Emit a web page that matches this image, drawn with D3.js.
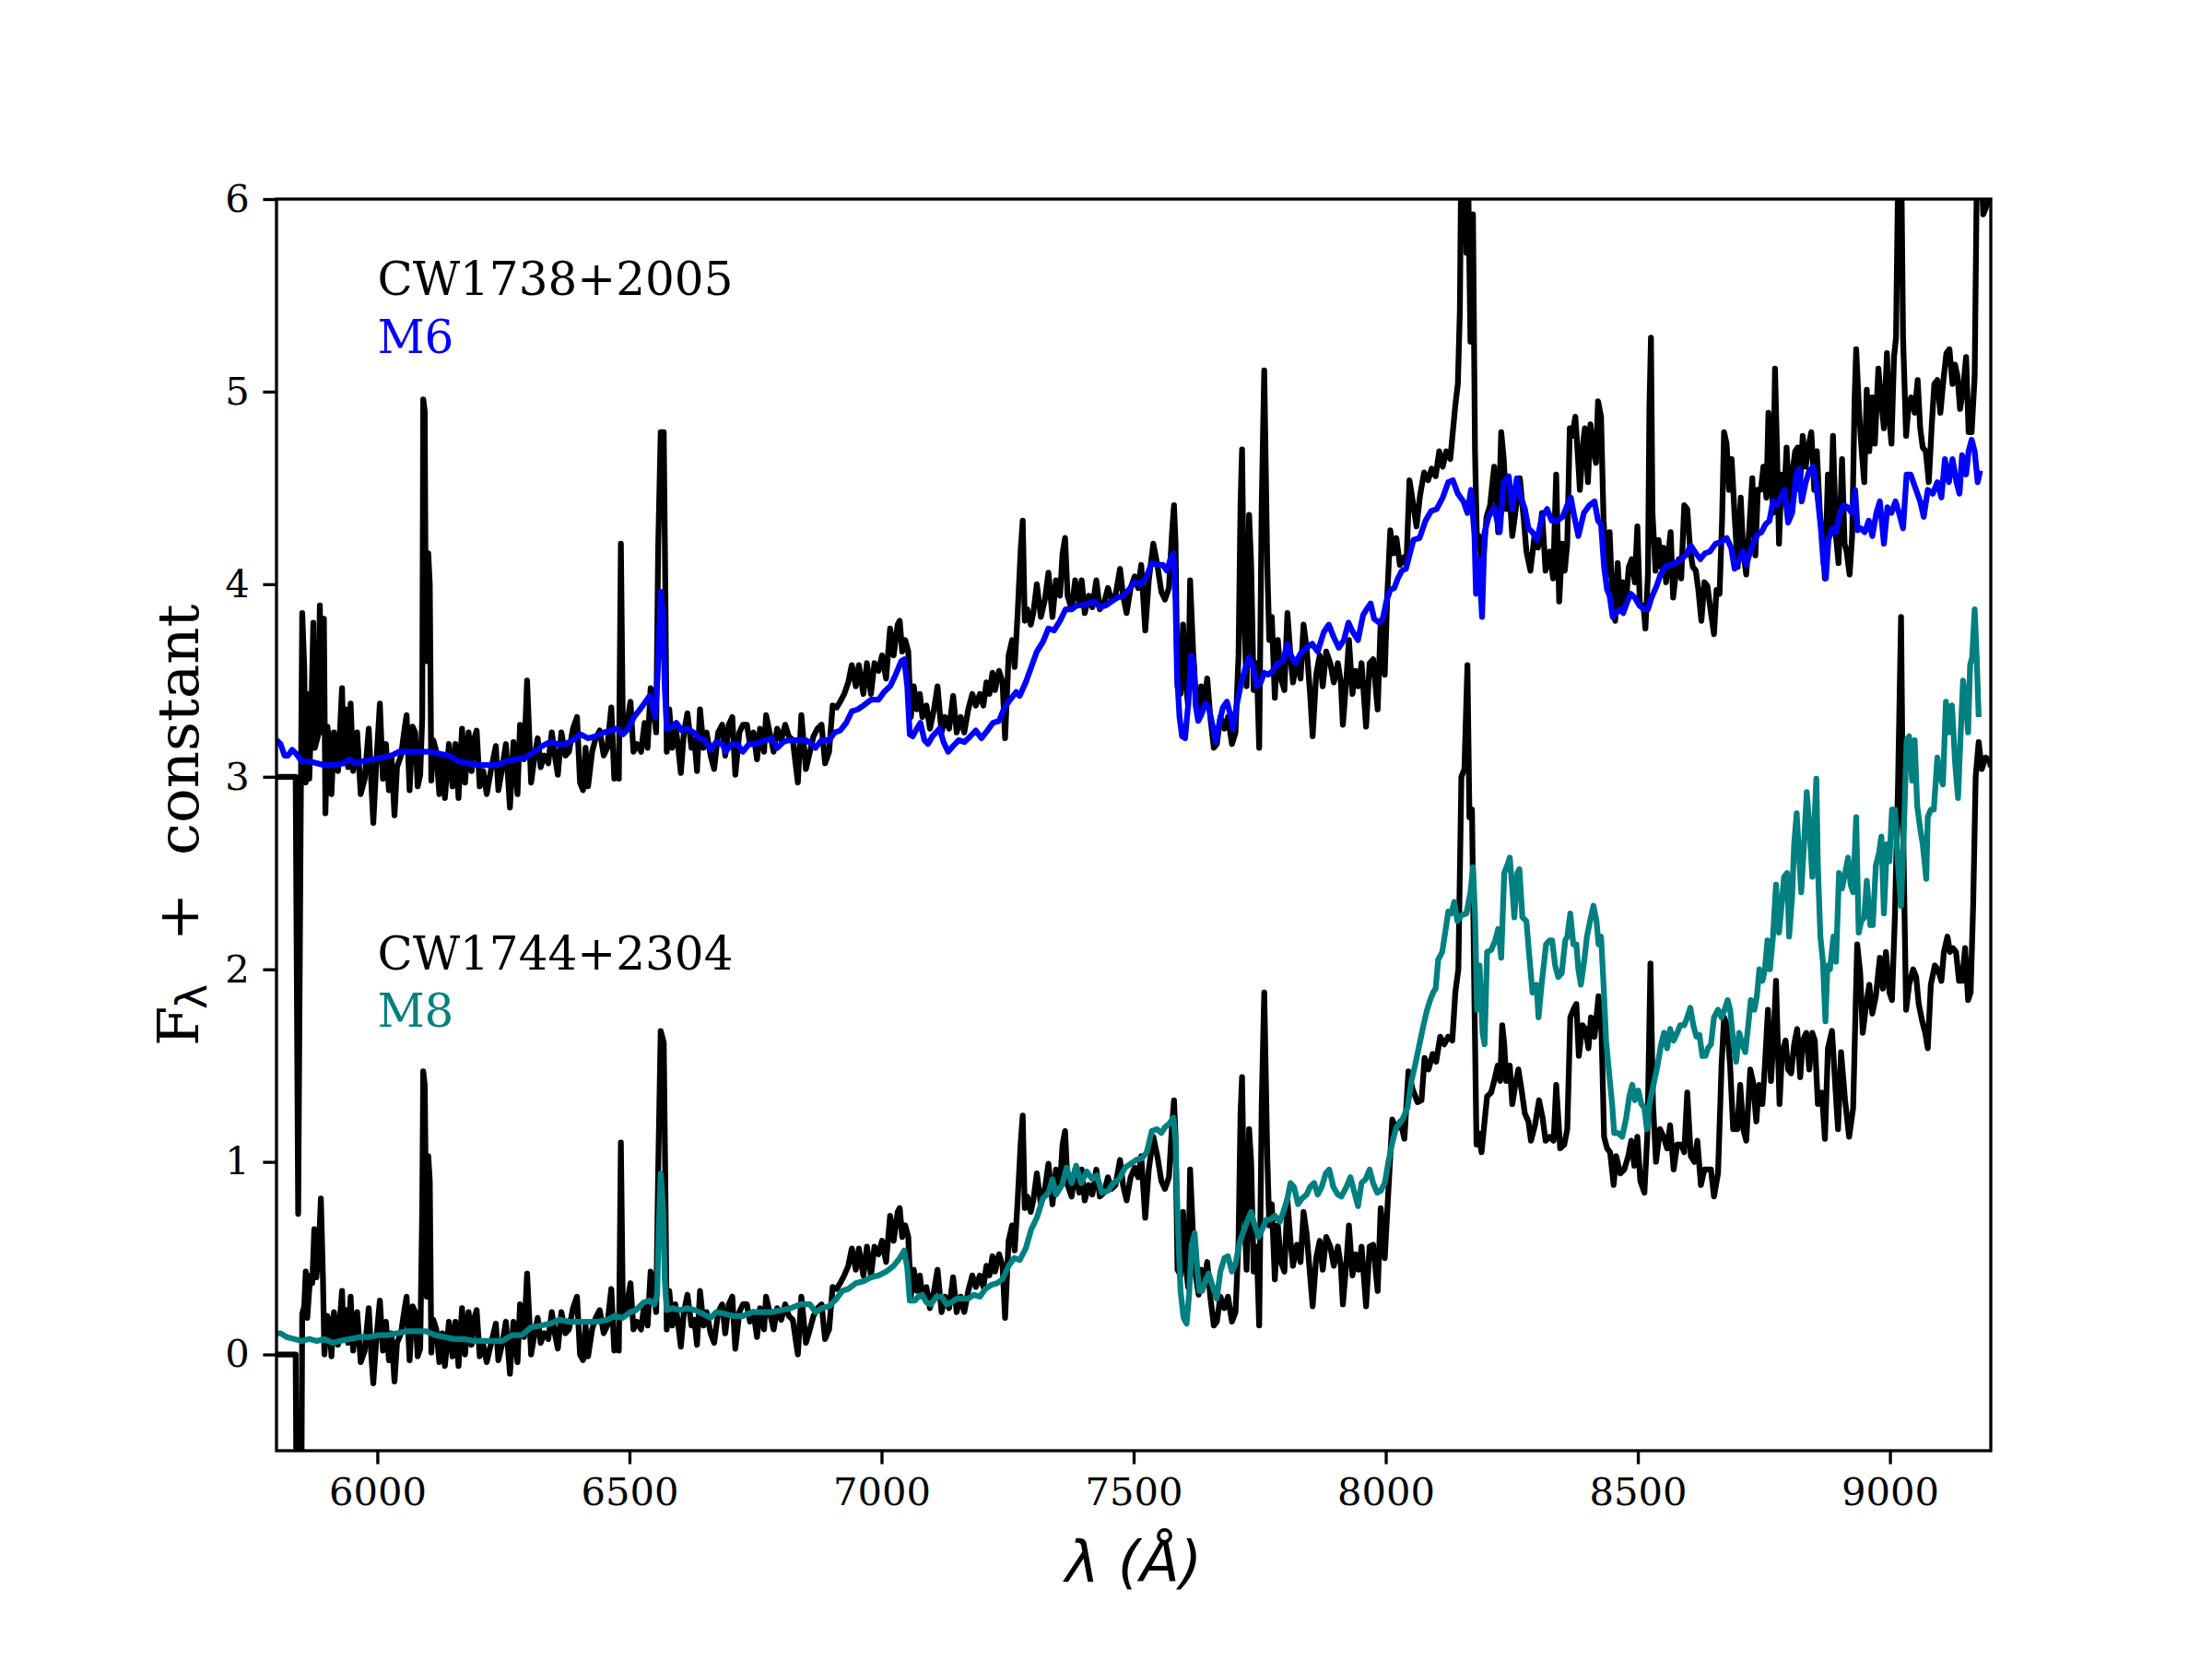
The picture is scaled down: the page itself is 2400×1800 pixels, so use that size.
<!DOCTYPE html>
<html>
<head>
<meta charset="utf-8">
<style>
  body { margin: 0; background: #fff; }
  svg { display: block; }
</style>
</head>
<body>
<script src="https://cdn.jsdelivr.net/npm/d3@7"></script>
<script>

// _____________ data  [wavelength (A), flux + constant]
var cw1738 = [[5800,3.00],[5838,3.00],[5843,0.73],[5848,2.80],[5851,3.85],[5855,3.57],[5858,2.97],[5861,3.43],[5865,2.99],[5869,3.33],[5873,3.80],[5876,3.15],[5882,3.21],[5886,3.89],[5890,3.23],[5894,3.82],[5897,2.81],[5901,3.26],[5905,3.17],[5909,2.91],[5914,3.23],[5922,3.03],[5930,3.46],[5933,3.07],[5937,3.35],[5942,3.05],[5947,3.38],[5952,3.03],[5960,3.23],[5967,2.91],[5975,2.99],[5983,3.25],[5988,2.97],[5992,2.76],[5998,3.07],[6005,3.38],[6011,2.99],[6017,3.17],[6023,2.93],[6028,3.11],[6034,2.80],[6039,3.05],[6047,3.11],[6053,3.23],[6058,3.32],[6064,2.93],[6070,3.26],[6075,3.23],[6080,2.95],[6085,3.01],[6089,3.30],[6091,4.96],[6094,4.90],[6096,3.80],[6098,3.60],[6101,4.16],[6104,4.00],[6107,2.98],[6111,3.19],[6117,3.13],[6123,2.91],[6129,3.11],[6134,2.89],[6142,3.17],[6149,2.95],[6155,3.17],[6161,2.89],[6168,3.25],[6174,2.97],[6181,3.23],[6187,3.03],[6191,3.19],[6197,3.24],[6203,2.95],[6210,3.03],[6217,2.91],[6225,3.03],[6235,3.16],[6240,2.93],[6248,3.05],[6255,3.17],[6263,2.84],[6270,3.18],[6278,2.91],[6283,3.27],[6291,3.09],[6297,3.50],[6305,2.97],[6312,3.11],[6318,3.20],[6324,3.05],[6331,3.11],[6339,3.07],[6346,3.23],[6352,3.11],[6358,3.01],[6365,3.23],[6373,3.11],[6380,3.13],[6388,3.25],[6396,3.31],[6402,2.97],[6408,2.93],[6413,3.15],[6418,2.95],[6426,3.13],[6433,3.20],[6441,3.24],[6449,3.11],[6456,3.15],[6464,3.36],[6470,2.99],[6475,3.07],[6479,2.99],[6483,4.21],[6487,3.23],[6494,3.25],[6502,3.39],[6508,3.13],[6515,3.17],[6523,3.13],[6530,3.28],[6536,3.15],[6542,3.46],[6549,3.32],[6553,3.23],[6557,4.19],[6562,4.79],[6568,4.79],[6571,4.02],[6574,3.13],[6579,3.35],[6585,3.15],[6591,3.27],[6596,3.17],[6602,3.02],[6608,3.23],[6615,3.33],[6623,3.15],[6629,3.19],[6634,3.03],[6640,3.35],[6647,3.15],[6653,3.23],[6661,3.11],[6668,3.04],[6676,3.23],[6684,3.27],[6690,3.11],[6697,3.27],[6704,3.31],[6710,3.01],[6718,3.23],[6725,3.27],[6733,3.27],[6739,3.17],[6746,3.23],[6753,3.09],[6759,3.25],[6767,3.13],[6771,3.32],[6778,3.23],[6786,3.13],[6793,3.25],[6801,3.19],[6809,3.27],[6816,3.21],[6824,3.19],[6834,2.97],[6841,3.32],[6850,3.04],[6858,3.13],[6865,3.21],[6873,3.25],[6881,3.27],[6888,3.07],[6896,3.13],[6903,3.37],[6911,3.36],[6918,3.39],[6926,3.43],[6934,3.49],[6941,3.58],[6949,3.47],[6955,3.58],[6964,3.43],[6971,3.59],[6979,3.43],[6986,3.59],[6994,3.55],[7001,3.63],[7009,3.51],[7017,3.77],[7024,3.63],[7032,3.79],[7036,3.81],[7041,3.65],[7047,3.71],[7053,3.65],[7058,3.31],[7064,3.47],[7070,3.35],[7076,3.43],[7081,3.31],[7089,3.37],[7096,3.25],[7104,3.35],[7111,3.47],[7119,3.23],[7126,3.31],[7134,3.25],[7142,3.42],[7149,3.23],[7157,3.31],[7164,3.23],[7172,3.35],[7180,3.43],[7187,3.37],[7195,3.43],[7202,3.37],[7208,3.49],[7214,3.43],[7220,3.54],[7225,3.45],[7233,3.55],[7240,3.49],[7245,3.20],[7252,3.63],[7259,3.71],[7264,3.57],[7270,3.85],[7276,4.18],[7280,4.33],[7284,3.81],[7289,3.87],[7296,3.79],[7301,3.85],[7308,4.00],[7316,3.83],[7324,3.92],[7331,4.06],[7339,3.83],[7346,4.02],[7354,3.94],[7359,4.16],[7364,4.24],[7369,3.94],[7377,3.87],[7384,4.02],[7392,3.90],[7397,4.02],[7403,3.85],[7411,3.94],[7418,3.88],[7426,4.02],[7433,3.87],[7441,3.90],[7449,3.98],[7456,3.92],[7464,3.94],[7473,4.08],[7479,3.94],[7486,3.85],[7494,3.98],[7502,4.04],[7509,3.98],[7515,4.10],[7523,3.76],[7530,4.02],[7539,4.21],[7547,4.10],[7555,3.96],[7562,3.92],[7570,3.98],[7576,4.26],[7580,4.41],[7583,4.22],[7587,3.47],[7593,3.43],[7598,3.79],[7602,3.53],[7608,3.37],[7612,4.02],[7618,3.65],[7623,3.43],[7629,3.33],[7634,3.47],[7640,3.39],[7646,3.51],[7652,3.31],[7659,3.15],[7665,3.17],[7672,3.31],[7680,3.25],[7687,3.31],[7695,3.17],[7702,3.23],[7708,3.63],[7712,4.42],[7715,4.70],[7719,3.83],[7724,3.47],[7729,4.36],[7733,4.10],[7738,3.45],[7744,3.59],[7749,3.15],[7754,4.42],[7759,5.11],[7765,4.10],[7769,3.71],[7774,3.83],[7780,3.41],[7786,3.71],[7792,3.51],[7799,3.45],[7805,3.85],[7811,3.63],[7816,3.49],[7824,3.61],[7831,3.51],[7837,3.79],[7843,3.67],[7850,3.43],[7855,3.21],[7862,3.53],[7869,3.63],[7875,3.47],[7882,3.65],[7890,3.59],[7897,3.49],[7905,3.59],[7911,3.49],[7915,3.27],[7922,3.51],[7927,3.71],[7934,3.43],[7940,3.55],[7946,3.47],[7952,3.59],[7961,3.26],[7968,3.59],[7975,3.61],[7984,3.35],[7990,3.81],[7998,3.53],[8003,3.94],[8009,4.28],[8015,4.16],[8021,4.24],[8028,4.10],[8036,4.14],[8041,4.10],[8047,4.54],[8053,4.44],[8061,4.30],[8068,4.46],[8076,4.58],[8084,4.54],[8091,4.60],[8099,4.56],[8106,4.69],[8113,4.61],[8120,4.69],[8128,4.65],[8133,4.79],[8138,4.93],[8143,5.04],[8147,5.42],[8150,6.30],[8156,6.40],[8160,5.72],[8163,6.20],[8168,5.26],[8173,5.92],[8177,4.69],[8181,4.21],[8186,4.25],[8191,4.05],[8200,4.35],[8207,4.41],[8215,4.61],[8223,4.27],[8229,4.79],[8234,4.65],[8239,4.39],[8244,4.53],[8251,4.25],[8259,4.41],[8266,4.55],[8274,4.33],[8279,4.17],[8287,4.07],[8295,4.25],[8302,4.19],[8310,4.37],[8317,4.07],[8325,4.17],[8332,4.03],[8338,4.57],[8344,3.91],[8350,4.21],[8355,4.07],[8360,4.21],[8365,4.81],[8370,4.77],[8376,4.87],[8380,4.71],[8385,4.49],[8392,4.75],[8395,4.81],[8401,4.53],[8406,4.83],[8412,4.69],[8417,4.63],[8421,4.95],[8427,4.87],[8432,4.33],[8439,4.05],[8444,4.27],[8450,3.89],[8455,3.81],[8460,4.11],[8465,3.89],[8471,4.01],[8476,3.89],[8482,4.09],[8488,4.13],[8494,4.01],[8499,4.30],[8504,3.89],[8511,3.89],[8515,3.77],[8520,4.05],[8523,4.93],[8526,5.28],[8529,4.37],[8535,4.07],[8541,4.23],[8546,4.09],[8551,4.19],[8556,4.01],[8561,4.17],[8565,4.27],[8570,3.93],[8575,4.05],[8581,4.13],[8586,4.03],[8592,4.41],[8598,4.39],[8604,4.17],[8609,4.09],[8615,4.07],[8620,3.97],[8626,3.81],[8632,4.01],[8638,3.99],[8643,3.89],[8651,3.74],[8656,3.97],[8662,3.95],[8667,4.33],[8671,4.79],[8676,4.73],[8681,4.49],[8686,4.65],[8692,4.35],[8698,4.09],[8704,4.45],[8709,4.17],[8715,4.05],[8721,4.29],[8727,4.55],[8733,4.15],[8738,4.49],[8744,4.49],[8749,4.61],[8755,4.45],[8759,4.89],[8764,4.65],[8768,4.37],[8772,5.12],[8776,4.69],[8780,4.21],[8785,4.57],[8791,4.49],[8795,4.71],[8801,4.37],[8806,4.57],[8812,4.69],[8817,4.71],[8821,4.49],[8827,4.77],[8833,4.61],[8838,4.71],[8844,4.79],[8850,4.49],[8855,4.69],[8861,4.37],[8867,4.19],[8871,4.03],[8877,4.57],[8882,4.29],[8887,4.77],[8893,4.25],[8898,4.11],[8905,4.65],[8910,4.21],[8914,4.17],[8920,4.05],[8925,4.25],[8930,4.97],[8933,5.22],[8939,4.89],[8944,4.69],[8949,4.53],[8954,5.01],[8959,4.69],[8965,4.97],[8970,4.73],[8977,5.12],[8982,4.97],[8988,4.81],[8994,5.20],[8999,4.85],[9003,4.73],[9008,5.18],[9012,5.28],[9017,6.30],[9022,6.30],[9026,5.28],[9032,4.77],[9037,4.93],[9042,4.97],[9049,4.89],[9055,5.06],[9060,4.81],[9065,4.71],[9071,4.69],[9077,4.53],[9083,4.83],[9088,5.04],[9094,5.06],[9100,4.89],[9106,5.06],[9112,5.20],[9118,5.22],[9124,5.04],[9129,5.14],[9134,5.08],[9139,4.91],[9145,5.01],[9151,5.18],[9156,4.79],[9162,4.79],[9168,5.08],[9173,6.30],[9179,6.30],[9185,5.92],[9191,5.96],[9196,5.99],[9200,5.97]]

var templateM6 = [[5800,3.19],[5808,3.17],[5816,3.11],[5823,3.11],[5831,3.14],[5839,3.12],[5850,3.08],[5865,3.08],[5880,3.07],[5895,3.06],[5914,3.06],[5933,3.07],[5945,3.09],[5956,3.07],[5971,3.08],[5990,3.09],[6009,3.10],[6028,3.11],[6043,3.13],[6066,3.13],[6085,3.13],[6104,3.13],[6123,3.12],[6142,3.11],[6161,3.08],[6180,3.07],[6199,3.06],[6217,3.06],[6236,3.06],[6255,3.08],[6274,3.09],[6293,3.10],[6312,3.13],[6327,3.16],[6343,3.18],[6358,3.17],[6373,3.17],[6388,3.19],[6403,3.22],[6418,3.20],[6433,3.21],[6449,3.23],[6464,3.24],[6475,3.25],[6487,3.22],[6498,3.25],[6509,3.31],[6521,3.35],[6532,3.39],[6540,3.42],[6546,3.37],[6551,3.31],[6556,3.53],[6562,3.96],[6567,3.82],[6570,3.47],[6574,3.25],[6585,3.26],[6593,3.28],[6604,3.24],[6615,3.25],[6627,3.23],[6638,3.20],[6649,3.19],[6661,3.14],[6672,3.18],[6684,3.17],[6691,3.13],[6702,3.17],[6714,3.17],[6725,3.13],[6737,3.17],[6748,3.17],[6759,3.18],[6771,3.19],[6782,3.20],[6793,3.15],[6805,3.18],[6816,3.19],[6828,3.19],[6839,3.19],[6850,3.19],[6862,3.17],[6869,3.15],[6881,3.19],[6896,3.19],[6907,3.23],[6918,3.24],[6930,3.28],[6941,3.34],[6953,3.35],[6964,3.37],[6979,3.40],[6994,3.40],[7005,3.44],[7017,3.47],[7028,3.53],[7039,3.60],[7045,3.61],[7051,3.47],[7056,3.22],[7062,3.21],[7070,3.25],[7077,3.28],[7085,3.19],[7092,3.17],[7101,3.21],[7115,3.25],[7123,3.18],[7132,3.13],[7142,3.16],[7153,3.19],[7164,3.18],[7176,3.21],[7187,3.24],[7198,3.20],[7210,3.24],[7221,3.28],[7233,3.29],[7244,3.36],[7255,3.40],[7267,3.44],[7274,3.42],[7286,3.49],[7297,3.57],[7308,3.65],[7320,3.70],[7331,3.77],[7342,3.76],[7354,3.81],[7365,3.87],[7377,3.87],[7388,3.89],[7399,3.89],[7411,3.90],[7422,3.91],[7433,3.88],[7445,3.89],[7456,3.91],[7468,3.93],[7479,3.94],[7490,3.97],[7502,4.01],[7513,4.00],[7524,4.03],[7536,4.11],[7547,4.10],[7558,4.10],[7566,4.07],[7574,4.14],[7579,4.16],[7583,3.92],[7586,3.53],[7591,3.31],[7596,3.21],[7602,3.20],[7608,3.37],[7614,3.63],[7619,3.59],[7623,3.37],[7628,3.29],[7634,3.32],[7642,3.38],[7649,3.36],[7657,3.26],[7663,3.18],[7670,3.28],[7677,3.36],[7685,3.39],[7691,3.33],[7697,3.25],[7705,3.38],[7712,3.47],[7720,3.55],[7729,3.62],[7737,3.57],[7744,3.47],[7752,3.49],[7759,3.54],[7767,3.53],[7776,3.55],[7786,3.59],[7796,3.60],[7805,3.69],[7812,3.63],[7821,3.59],[7831,3.64],[7843,3.67],[7854,3.69],[7865,3.65],[7877,3.75],[7887,3.79],[7896,3.73],[7907,3.67],[7917,3.71],[7926,3.80],[7935,3.75],[7945,3.71],[7955,3.84],[7962,3.87],[7970,3.90],[7977,3.82],[7987,3.80],[7994,3.82],[8002,3.92],[8009,3.97],[8017,3.98],[8024,4.03],[8032,4.07],[8040,4.08],[8047,4.15],[8055,4.23],[8067,4.24],[8079,4.33],[8090,4.38],[8101,4.39],[8113,4.45],[8124,4.53],[8133,4.54],[8143,4.47],[8154,4.43],[8162,4.37],[8169,4.49],[8176,4.25],[8179,3.95],[8185,4.13],[8191,3.83],[8196,4.27],[8204,4.35],[8215,4.40],[8226,4.27],[8234,4.53],[8244,4.56],[8251,4.39],[8260,4.55],[8268,4.45],[8276,4.39],[8283,4.29],[8291,4.27],[8300,4.23],[8310,4.35],[8320,4.39],[8329,4.33],[8340,4.33],[8351,4.35],[8360,4.41],[8367,4.45],[8374,4.35],[8382,4.25],[8393,4.37],[8404,4.41],[8414,4.43],[8421,4.33],[8427,4.31],[8433,4.09],[8439,3.97],[8444,3.94],[8450,3.83],[8457,3.85],[8465,3.87],[8471,3.85],[8479,3.91],[8486,3.95],[8494,3.93],[8503,3.89],[8512,3.87],[8520,3.87],[8527,3.93],[8537,3.99],[8545,4.05],[8554,4.09],[8564,4.10],[8575,4.11],[8586,4.13],[8595,4.15],[8605,4.20],[8615,4.16],[8624,4.13],[8633,4.16],[8643,4.17],[8654,4.21],[8666,4.22],[8676,4.24],[8685,4.19],[8692,4.08],[8700,4.12],[8708,4.17],[8715,4.10],[8723,4.17],[8730,4.22],[8738,4.26],[8745,4.27],[8753,4.31],[8761,4.33],[8768,4.43],[8776,4.41],[8783,4.45],[8791,4.49],[8798,4.32],[8806,4.37],[8814,4.57],[8820,4.60],[8825,4.43],[8833,4.53],[8840,4.59],[8848,4.61],[8855,4.49],[8863,4.29],[8868,4.11],[8873,4.03],[8878,4.23],[8886,4.29],[8893,4.27],[8901,4.37],[8908,4.41],[8916,4.40],[8924,4.37],[8931,4.49],[8936,4.28],[8942,4.29],[8950,4.27],[8958,4.33],[8965,4.25],[8973,4.37],[8980,4.43],[8988,4.21],[8995,4.40],[9003,4.37],[9011,4.43],[9018,4.37],[9026,4.29],[9033,4.57],[9041,4.57],[9049,4.51],[9060,4.43],[9067,4.35],[9075,4.49],[9085,4.47],[9094,4.53],[9102,4.45],[9109,4.65],[9117,4.53],[9124,4.65],[9132,4.53],[9138,4.47],[9143,4.67],[9151,4.57],[9156,4.69],[9162,4.75],[9168,4.69],[9174,4.53],[9179,4.59]]

var cw1744 = [[5800,0.00],[5838,0.00],[5843,-2.30],[5848,-1.50],[5851,0.21],[5855,0.25],[5858,0.43],[5861,0.19],[5867,0.41],[5871,0.37],[5875,0.65],[5879,0.40],[5884,0.55],[5888,0.81],[5892,0.41],[5895,0.00],[5901,0.20],[5905,0.17],[5909,-0.01],[5914,0.22],[5922,0.05],[5930,0.33],[5933,0.08],[5937,0.23],[5942,0.06],[5947,0.30],[5952,0.02],[5960,0.22],[5967,-0.04],[5975,0.02],[5983,0.24],[5988,0.00],[5992,-0.15],[5998,0.08],[6005,0.28],[6011,0.02],[6017,0.17],[6023,-0.03],[6028,0.11],[6034,-0.14],[6039,0.06],[6047,0.11],[6053,0.22],[6058,0.30],[6064,-0.03],[6070,0.25],[6075,0.22],[6080,-0.01],[6085,0.03],[6089,0.75],[6091,1.47],[6094,1.40],[6096,0.90],[6098,0.30],[6101,1.03],[6104,0.90],[6107,0.01],[6111,0.18],[6117,0.13],[6123,-0.04],[6129,0.11],[6134,-0.06],[6142,0.17],[6149,-0.01],[6155,0.17],[6161,-0.06],[6168,0.24],[6174,0.00],[6181,0.22],[6187,0.05],[6191,0.18],[6197,0.23],[6203,-0.01],[6210,0.05],[6217,-0.04],[6225,0.05],[6235,0.16],[6240,-0.03],[6248,0.06],[6255,0.17],[6263,-0.10],[6270,0.17],[6278,-0.04],[6283,0.26],[6291,0.09],[6297,0.42],[6305,0.00],[6312,0.11],[6318,0.19],[6324,0.06],[6331,0.11],[6339,0.08],[6346,0.22],[6352,0.11],[6358,0.03],[6365,0.22],[6373,0.11],[6380,0.13],[6388,0.24],[6396,0.30],[6402,0.00],[6408,-0.03],[6413,0.15],[6418,-0.01],[6426,0.13],[6433,0.19],[6441,0.23],[6449,0.11],[6456,0.15],[6464,0.34],[6470,0.02],[6475,0.08],[6479,0.02],[6483,1.10],[6487,0.22],[6494,0.24],[6502,0.37],[6508,0.13],[6515,0.17],[6523,0.13],[6530,0.27],[6536,0.15],[6542,0.43],[6549,0.30],[6553,0.22],[6557,0.95],[6562,1.68],[6568,1.62],[6571,0.93],[6574,0.13],[6579,0.33],[6585,0.15],[6591,0.26],[6596,0.17],[6602,0.04],[6608,0.22],[6615,0.31],[6623,0.15],[6629,0.18],[6634,0.05],[6640,0.33],[6647,0.15],[6653,0.22],[6661,0.11],[6668,0.06],[6676,0.22],[6684,0.26],[6690,0.11],[6697,0.26],[6704,0.30],[6710,0.03],[6718,0.22],[6725,0.26],[6733,0.26],[6739,0.17],[6746,0.22],[6753,0.09],[6759,0.24],[6767,0.13],[6771,0.30],[6778,0.22],[6786,0.13],[6793,0.24],[6801,0.18],[6809,0.26],[6816,0.20],[6824,0.18],[6834,0.00],[6841,0.30],[6850,0.06],[6858,0.13],[6865,0.20],[6873,0.24],[6881,0.26],[6888,0.08],[6896,0.13],[6903,0.35],[6911,0.34],[6918,0.37],[6926,0.41],[6934,0.46],[6941,0.55],[6949,0.44],[6955,0.55],[6964,0.41],[6971,0.56],[6979,0.41],[6986,0.56],[6994,0.52],[7001,0.59],[7009,0.48],[7017,0.72],[7024,0.59],[7032,0.74],[7036,0.76],[7041,0.61],[7047,0.67],[7053,0.61],[7058,0.30],[7064,0.44],[7070,0.33],[7076,0.41],[7081,0.30],[7089,0.35],[7096,0.24],[7104,0.33],[7111,0.44],[7119,0.22],[7126,0.30],[7134,0.24],[7142,0.40],[7149,0.22],[7157,0.30],[7164,0.22],[7172,0.33],[7180,0.41],[7187,0.35],[7195,0.41],[7202,0.35],[7208,0.46],[7214,0.41],[7220,0.51],[7225,0.43],[7233,0.52],[7240,0.46],[7245,0.19],[7252,0.59],[7259,0.67],[7264,0.54],[7270,0.80],[7276,1.10],[7280,1.24],[7284,0.76],[7289,0.82],[7296,0.74],[7301,0.80],[7308,0.94],[7316,0.78],[7324,0.86],[7331,0.99],[7339,0.78],[7346,0.96],[7354,0.88],[7359,1.09],[7364,1.16],[7369,0.88],[7377,0.82],[7384,0.96],[7392,0.84],[7397,0.96],[7403,0.80],[7411,0.88],[7418,0.83],[7426,0.96],[7433,0.82],[7441,0.84],[7449,0.92],[7456,0.86],[7464,0.88],[7473,1.01],[7479,0.88],[7486,0.80],[7494,0.92],[7502,0.97],[7509,0.92],[7515,1.03],[7523,0.71],[7530,0.96],[7539,1.13],[7547,1.03],[7555,0.90],[7562,0.86],[7570,0.92],[7576,1.18],[7580,1.32],[7583,1.14],[7587,0.44],[7593,0.41],[7598,0.74],[7602,0.50],[7608,0.35],[7612,0.96],[7618,0.61],[7623,0.41],[7629,0.31],[7634,0.44],[7640,0.37],[7646,0.48],[7652,0.30],[7659,0.15],[7665,0.17],[7672,0.30],[7680,0.24],[7687,0.30],[7695,0.17],[7702,0.22],[7708,0.59],[7712,1.25],[7715,1.44],[7719,0.78],[7724,0.44],[7729,1.17],[7733,1.00],[7738,0.43],[7744,0.56],[7749,0.15],[7754,1.30],[7759,1.88],[7765,1.03],[7769,0.67],[7774,0.78],[7780,0.39],[7786,0.67],[7792,0.48],[7799,0.43],[7805,0.80],[7811,0.59],[7816,0.46],[7824,0.57],[7831,0.48],[7837,0.74],[7843,0.63],[7850,0.41],[7855,0.25],[7862,0.50],[7869,0.59],[7875,0.44],[7882,0.61],[7890,0.56],[7897,0.46],[7905,0.56],[7911,0.46],[7915,0.26],[7922,0.48],[7927,0.67],[7934,0.41],[7940,0.52],[7946,0.44],[7952,0.56],[7961,0.25],[7968,0.56],[7975,0.57],[7984,0.33],[7990,0.76],[7998,0.50],[8005,0.84],[8013,1.22],[8021,1.17],[8029,1.21],[8037,1.12],[8045,1.47],[8053,1.38],[8063,1.31],[8071,1.32],[8077,1.54],[8085,1.48],[8093,1.56],[8100,1.52],[8108,1.65],[8116,1.61],[8124,1.65],[8132,1.63],[8138,1.88],[8144,2.00],[8150,3.00],[8156,3.04],[8162,3.58],[8166,2.79],[8171,2.83],[8176,1.82],[8180,1.09],[8184,1.15],[8190,1.05],[8196,1.21],[8201,1.34],[8209,1.36],[8215,1.42],[8222,1.50],[8227,1.42],[8231,1.71],[8235,1.61],[8239,1.42],[8246,1.50],[8251,1.30],[8257,1.40],[8263,1.48],[8269,1.38],[8276,1.25],[8283,1.21],[8288,1.11],[8296,1.19],[8304,1.32],[8311,1.23],[8317,1.11],[8325,1.13],[8333,1.11],[8338,1.40],[8346,1.07],[8354,1.09],[8360,1.17],[8366,1.75],[8372,1.79],[8378,1.82],[8383,1.55],[8390,1.71],[8396,1.69],[8402,1.59],[8407,1.75],[8414,1.65],[8422,1.86],[8428,1.67],[8433,1.13],[8439,1.07],[8445,1.05],[8452,0.88],[8457,1.03],[8465,0.94],[8473,0.96],[8481,1.03],[8487,1.11],[8493,0.98],[8499,1.13],[8505,0.90],[8513,0.84],[8519,1.15],[8525,2.03],[8530,1.30],[8536,1.00],[8544,1.17],[8551,1.13],[8558,1.07],[8564,1.19],[8571,0.96],[8578,1.09],[8586,1.09],[8592,1.05],[8598,1.36],[8605,1.03],[8612,1.00],[8618,1.11],[8625,0.88],[8632,0.96],[8639,0.96],[8645,0.96],[8651,0.82],[8659,0.94],[8666,1.50],[8671,1.75],[8677,1.71],[8683,1.50],[8689,1.17],[8697,1.17],[8703,1.40],[8709,1.17],[8715,1.11],[8723,1.48],[8728,1.42],[8735,1.21],[8740,1.40],[8747,1.30],[8752,1.50],[8758,1.79],[8764,1.42],[8769,1.63],[8774,1.94],[8781,1.30],[8786,1.57],[8793,1.63],[8798,1.48],[8804,1.46],[8810,1.61],[8816,1.69],[8822,1.44],[8827,1.63],[8834,1.67],[8840,1.48],[8846,1.67],[8851,1.63],[8857,1.30],[8865,1.36],[8871,1.12],[8877,1.59],[8885,1.68],[8891,1.42],[8897,1.17],[8903,1.57],[8911,1.32],[8919,1.13],[8927,1.28],[8935,2.13],[8941,1.98],[8946,1.67],[8953,1.82],[8959,1.92],[8965,1.77],[8972,1.86],[8980,2.06],[8986,1.90],[8992,2.09],[8999,1.88],[9004,1.84],[9010,2.29],[9016,2.96],[9022,3.83],[9026,2.75],[9032,1.79],[9038,1.92],[9046,2.00],[9052,1.96],[9057,1.82],[9064,1.73],[9070,1.67],[9075,1.59],[9081,1.92],[9089,2.02],[9095,2.00],[9102,1.94],[9107,2.09],[9114,2.17],[9119,2.09],[9125,2.11],[9131,2.09],[9137,1.94],[9143,1.94],[9149,2.11],[9155,1.84],[9160,1.88],[9165,2.33],[9170,3.00],[9176,3.18],[9182,3.04],[9190,3.10],[9198,3.08],[9200,3.05]]

var templateM8 = [[5800,0.11],[5808,0.11],[5820,0.09],[5835,0.08],[5850,0.07],[5865,0.08],[5880,0.07],[5895,0.08],[5911,0.06],[5926,0.07],[5945,0.08],[5964,0.09],[5983,0.09],[6002,0.10],[6020,0.10],[6039,0.11],[6058,0.12],[6077,0.12],[6096,0.12],[6115,0.10],[6134,0.09],[6153,0.08],[6172,0.08],[6191,0.07],[6210,0.07],[6229,0.07],[6248,0.07],[6267,0.10],[6286,0.10],[6305,0.14],[6324,0.15],[6343,0.16],[6361,0.18],[6380,0.17],[6399,0.17],[6418,0.17],[6437,0.17],[6456,0.18],[6471,0.20],[6487,0.19],[6502,0.22],[6513,0.23],[6528,0.27],[6540,0.28],[6549,0.26],[6555,0.31],[6558,0.65],[6562,0.94],[6567,0.75],[6570,0.39],[6574,0.23],[6585,0.24],[6600,0.23],[6615,0.24],[6630,0.23],[6646,0.21],[6661,0.19],[6672,0.22],[6691,0.21],[6706,0.20],[6725,0.20],[6744,0.22],[6763,0.22],[6782,0.22],[6801,0.23],[6820,0.24],[6839,0.26],[6858,0.26],[6869,0.22],[6881,0.24],[6896,0.25],[6911,0.29],[6922,0.33],[6934,0.34],[6949,0.37],[6964,0.38],[6979,0.40],[6994,0.41],[7009,0.43],[7024,0.46],[7036,0.50],[7045,0.54],[7051,0.45],[7056,0.28],[7066,0.28],[7073,0.30],[7081,0.31],[7089,0.27],[7098,0.26],[7109,0.30],[7119,0.30],[7129,0.26],[7138,0.27],[7149,0.29],[7161,0.29],[7172,0.29],[7183,0.31],[7195,0.30],[7206,0.34],[7217,0.36],[7229,0.37],[7240,0.39],[7252,0.46],[7263,0.50],[7274,0.49],[7286,0.55],[7297,0.65],[7308,0.71],[7320,0.81],[7331,0.84],[7339,0.91],[7346,0.83],[7358,0.88],[7367,0.97],[7377,0.89],[7386,0.98],[7396,0.89],[7407,0.95],[7418,0.91],[7427,0.93],[7437,0.84],[7449,0.85],[7460,0.89],[7471,0.91],[7483,0.97],[7494,0.99],[7505,1.01],[7517,1.02],[7526,1.05],[7536,1.16],[7546,1.17],[7555,1.15],[7562,1.18],[7571,1.20],[7579,1.23],[7583,1.11],[7588,0.65],[7593,0.33],[7599,0.19],[7605,0.16],[7610,0.31],[7615,0.57],[7621,0.63],[7626,0.45],[7630,0.33],[7636,0.33],[7643,0.39],[7649,0.42],[7657,0.35],[7665,0.29],[7672,0.43],[7680,0.50],[7687,0.51],[7695,0.43],[7702,0.47],[7710,0.58],[7718,0.64],[7725,0.69],[7733,0.74],[7740,0.67],[7748,0.61],[7755,0.65],[7763,0.70],[7771,0.70],[7780,0.72],[7790,0.69],[7797,0.74],[7805,0.81],[7811,0.89],[7818,0.87],[7826,0.78],[7834,0.81],[7843,0.83],[7850,0.87],[7858,0.89],[7865,0.83],[7873,0.87],[7881,0.94],[7888,0.96],[7896,0.87],[7905,0.83],[7912,0.82],[7922,0.87],[7930,0.92],[7937,0.85],[7945,0.77],[7952,0.89],[7960,0.91],[7968,0.96],[7975,0.89],[7983,0.84],[7990,0.85],[7998,0.89],[8006,1.01],[8013,1.10],[8021,1.18],[8028,1.20],[8033,1.22],[8043,1.28],[8051,1.42],[8058,1.50],[8066,1.60],[8074,1.70],[8081,1.78],[8088,1.84],[8094,1.88],[8099,1.90],[8104,2.05],[8112,2.09],[8119,2.21],[8124,2.30],[8130,2.29],[8136,2.35],[8142,2.25],[8150,2.28],[8160,2.29],[8168,2.40],[8173,2.53],[8177,2.29],[8181,1.79],[8186,2.02],[8192,1.67],[8196,1.61],[8201,2.09],[8209,2.10],[8217,2.15],[8223,2.21],[8229,2.06],[8235,2.50],[8241,2.54],[8246,2.58],[8251,2.42],[8255,2.27],[8261,2.50],[8265,2.52],[8271,2.27],[8279,2.25],[8284,2.09],[8291,1.88],[8299,1.92],[8303,1.75],[8309,1.92],[8318,2.13],[8325,2.15],[8330,2.15],[8336,2.02],[8342,1.96],[8349,1.98],[8356,2.15],[8360,2.17],[8366,2.29],[8372,2.13],[8378,2.13],[8382,2.00],[8387,1.92],[8394,2.05],[8399,2.17],[8406,2.26],[8412,2.33],[8418,2.25],[8422,2.13],[8427,2.17],[8432,1.92],[8437,1.63],[8443,1.46],[8449,1.30],[8453,1.15],[8461,1.15],[8469,1.13],[8477,1.23],[8483,1.34],[8489,1.40],[8494,1.32],[8501,1.37],[8507,1.30],[8513,1.28],[8518,1.17],[8523,1.30],[8531,1.40],[8539,1.50],[8546,1.61],[8552,1.67],[8558,1.59],[8564,1.69],[8571,1.63],[8578,1.67],[8584,1.71],[8592,1.71],[8598,1.75],[8604,1.80],[8610,1.71],[8616,1.65],[8622,1.66],[8628,1.55],[8634,1.55],[8639,1.59],[8645,1.61],[8651,1.75],[8659,1.79],[8666,1.75],[8672,1.79],[8678,1.84],[8683,1.79],[8689,1.63],[8695,1.52],[8701,1.67],[8707,1.61],[8713,1.57],[8719,1.71],[8724,1.84],[8731,1.79],[8736,1.86],[8741,2.00],[8747,1.94],[8752,2.00],[8757,2.15],[8762,2.00],[8768,2.17],[8774,2.44],[8780,2.19],[8785,2.33],[8790,2.48],[8796,2.50],[8800,2.17],[8806,2.38],[8810,2.65],[8815,2.81],[8820,2.58],[8824,2.40],[8830,2.67],[8835,2.92],[8840,2.75],[8846,2.48],[8850,2.75],[8854,2.99],[8857,2.54],[8862,2.17],[8867,2.04],[8872,1.73],[8876,2.02],[8881,2.00],[8888,2.17],[8893,2.04],[8899,2.50],[8905,2.42],[8911,2.50],[8917,2.58],[8922,2.44],[8927,2.40],[8933,2.79],[8938,2.19],[8943,2.25],[8949,2.27],[8954,2.46],[8961,2.23],[8966,2.23],[8972,2.54],[8978,2.60],[8983,2.69],[8988,2.29],[8994,2.65],[8999,2.56],[9004,2.83],[9010,2.83],[9016,2.54],[9022,2.33],[9028,2.75],[9033,3.19],[9038,3.21],[9044,2.98],[9049,3.19],[9054,2.85],[9060,2.73],[9065,2.65],[9072,2.47],[9075,2.79],[9081,2.83],[9087,2.83],[9094,3.10],[9099,3.00],[9105,2.96],[9111,3.39],[9117,3.23],[9123,3.37],[9129,3.08],[9135,2.89],[9140,3.21],[9145,3.50],[9151,3.37],[9155,3.23],[9159,3.58],[9163,3.62],[9168,3.87],[9172,3.62],[9176,3.31]]

var xTicks = [6000, 6500, 7000, 7500, 8000, 8500, 9000]
var yTicks = [0, 1, 2, 3, 4, 5, 6]
var xDomain = [5800, 9200]
var yDomain = [-0.5, 6]

var labels = [
  { text: 'CW1738+2005', x: 6000, y: 5.5, color: '#000000' },
  { text: 'M6',          x: 6000, y: 5.2, color: '#0000ff' },
  { text: 'CW1744+2304', x: 6000, y: 2.0, color: '#000000' },
  { text: 'M8',          x: 6000, y: 1.7, color: '#008080' }
]

var series = [
  { name: 'CW1738+2005', data: cw1738,      color: '#000000' },
  { name: 'M6',          data: templateM6,  color: '#0000ff' },
  { name: 'CW1744+2304', data: cw1744,      color: '#000000' },
  { name: 'M8',          data: templateM8,  color: '#008080' }
]

// _____________ layout (300 dpi, 8 x 6 in)
var width = 2400
var height = 1800
var plot = { left: 300, right: 2160, top: 216, bottom: 1574 }
var pt = 300 / 72
var serif = "'DejaVu Serif', 'Liberation Serif', serif"
var sans = "'DejaVu Sans', 'Liberation Sans', sans-serif"

var x = d3.scaleLinear().domain(xDomain).range([plot.left, plot.right])
var y = d3.scaleLinear().domain(yDomain).range([plot.bottom, plot.top])

var svg = d3.select('body')
  .append('svg')
    .attr('width', width)
    .attr('height', height)
    .attr('viewBox', '0 0 ' + width + ' ' + height)

svg.append('rect')
    .attr('width', width)
    .attr('height', height)
    .style('fill', '#ffffff')

svg.append('defs')
  .append('clipPath')
    .attr('id', 'plot-clip')
  .append('rect')
    .attr('x', plot.left)
    .attr('y', plot.top)
    .attr('width', plot.right - plot.left)
    .attr('height', plot.bottom - plot.top)

// spectra
var line = d3.line()
  .x(function (d) { return x(d[0]) })
  .y(function (d) { return y(d[1]) })

svg.append('g')
    .attr('class', 'spectra')
    .attr('clip-path', 'url(#plot-clip)')
  .selectAll('path')
  .data(series)
  .enter()
  .append('path')
    .attr('d', function (d) { return line(d.data) })
    .style('fill', 'none')
    .style('stroke', function (d) { return d.color })
    .style('stroke-width', 1.5 * pt)
    .style('stroke-linejoin', 'round')
    .style('stroke-linecap', 'butt')

// axes
var tickLen = 3.5 * pt
var xAxis = d3.axisBottom(x)
  .tickValues(xTicks)
  .tickFormat(d3.format('d'))
  .tickSize(tickLen)
  .tickPadding(3.5 * pt)

var yAxis = d3.axisLeft(y)
  .tickValues(yTicks)
  .tickFormat(d3.format('d'))
  .tickSize(tickLen)
  .tickPadding(3.5 * pt)

var gx = svg.append('g')
    .attr('transform', 'translate(0,' + plot.bottom + ')')
    .call(xAxis)

var gy = svg.append('g')
    .attr('transform', 'translate(' + plot.left + ',0)')
    .call(yAxis)

;[gx, gy].forEach(function (g) {
  g.select('.domain').remove()
  g.selectAll('.tick line')
      .style('stroke', '#000')
      .style('stroke-width', 0.8 * pt)
  g.selectAll('.tick text')
      .style('font-family', serif)
      .style('font-size', (10 * pt) + 'px')
      .style('fill', '#000')
})

// frame
svg.append('rect')
    .attr('x', plot.left)
    .attr('y', plot.top)
    .attr('width', plot.right - plot.left)
    .attr('height', plot.bottom - plot.top)
    .style('fill', 'none')
    .style('stroke', '#000')
    .style('stroke-width', 0.8 * pt)

// object / template labels
svg.append('g')
  .selectAll('text')
  .data(labels)
  .enter()
  .append('text')
    .attr('x', function (d) { return x(d.x) })
    .attr('y', function (d) { return y(d.y) })
    .text(function (d) { return d.text })
    .style('font-family', serif)
    .style('font-size', (12 * pt) + 'px')
    .style('fill', function (d) { return d.color })

// x label
svg.append('text')
    .attr('x', (plot.left + plot.right) / 2)
    .attr('y', 1716)
    .attr('text-anchor', 'middle')
    .text('\u03bb (\u00c5)')
    .style('font-family', sans)
    .style('font-style', 'italic')
    .style('font-size', (15 * pt) + 'px')

// y label: F_lambda + constant
var ylab = svg.append('g')
    .attr('transform', 'translate(215,0) rotate(-90)')
    .style('font-size', (15 * pt) + 'px')

ylab.append('text')
    .attr('x', -1135)
    .attr('y', 0)
    .text('F')
    .style('font-family', serif)

ylab.append('text')
    .attr('x', -1095)
    .attr('y', 9)
    .text('\u03bb')
    .style('font-family', sans)
    .style('font-size', (11 * pt) + 'px')

ylab.append('text')
    .attr('x', -1021)
    .attr('y', 0)
    .text('+')
    .style('font-family', serif)

ylab.append('text')
    .attr('x', -928)
    .attr('y', 0)
    .text('constant')
    .style('font-family', serif)

</script>
</body>
</html>
